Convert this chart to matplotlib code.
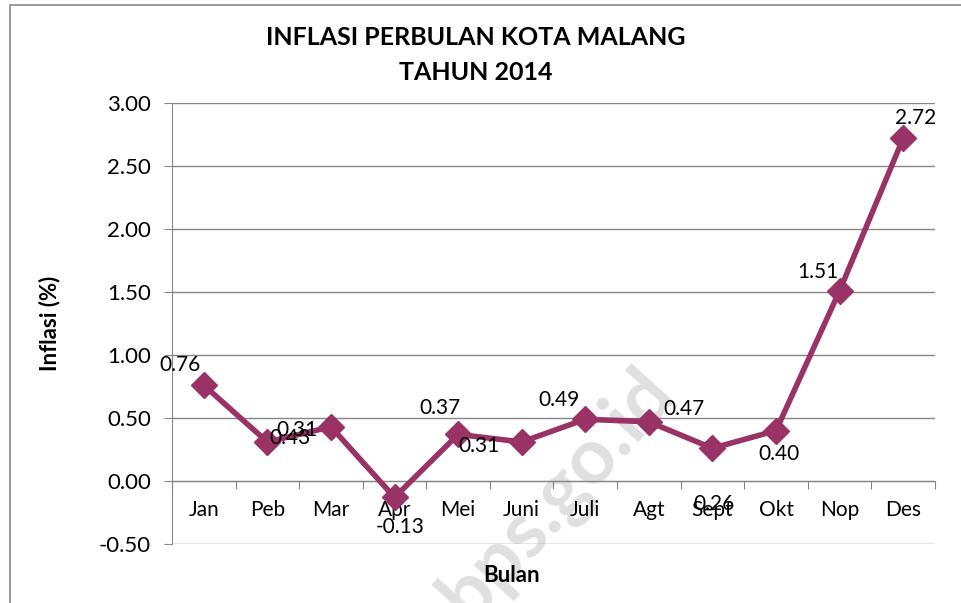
import numpy as np
import matplotlib.pyplot as plt
from matplotlib.patches import Rectangle

plt.rcParams['font.family'] = ['Lato', 'DejaVu Sans']

bulan = ['Jan', 'Peb', 'Mar', 'Apr', 'Mei', 'Juni', 'Juli', 'Agt', 'Sept', 'Okt', 'Nop', 'Des']
inflasi = [0.76, 0.31, 0.43, -0.13, 0.37, 0.31, 0.49, 0.47, 0.26, 0.40, 1.51, 2.72]
yticks = [-0.5, 0.0, 0.5, 1.0, 1.5, 2.0, 2.5, 3.0]

# label offsets in pixels (dx right, dy up), as placed in the original
label_off = [(-24, 20), (30, 12), (-41, -11), (6, -30), (-18, 26), (-43, -4),
             (-26, 19), (35, 13), (2, -56), (3, -23), (-22, 19), (12, 20)]

line_col = '#993366'
grid_col = '#868686'

fig = plt.figure(figsize=(9.62, 6.03), dpi=100)
ax = fig.add_axes([0.1788, 0.0978, 0.7931, 0.7314])
ax.set_facecolor('none')

x = np.arange(len(bulan))
ax.plot(x, inflasi, color=line_col, lw=4.0, marker='D', markersize=13,
        zorder=5, solid_joinstyle='miter')
for xi, v, (dx, dy) in zip(x, inflasi, label_off):
    ax.annotate(f'{v:.2f}', (xi, v), xytext=(dx, dy), textcoords='offset pixels',
                ha='center', va='center', fontsize=15, zorder=6)

ax.set_xlim(-0.5, len(bulan) - 0.5)
ax.set_ylim(-0.5, 3.0)
ax.set_yticks(yticks)
ax.set_yticklabels([f'{t:.2f}' for t in yticks])
ax.yaxis.grid(True, color=grid_col, lw=1)
ax.set_axisbelow(True)

ax.set_xticks(np.arange(len(bulan) + 1) - 0.5)
ax.set_xticklabels([])
ax.set_xticks(x, minor=True)
ax.set_xticklabels(bulan, minor=True)
ax.tick_params(axis='x', which='major', length=6, direction='out', color=grid_col)
ax.tick_params(axis='x', which='minor', length=0, pad=14, labelsize=15)
ax.tick_params(axis='y', length=6, direction='out', color=grid_col, pad=9, labelsize=16)

for s in ['top', 'right']:
    ax.spines[s].set_visible(False)
ax.spines['bottom'].set_position(('data', 0))
ax.spines['bottom'].set_color(grid_col)
ax.spines['left'].set_color(grid_col)

ax.set_ylabel('Inflasi (%)', fontsize=16, fontweight='bold', labelpad=28)
fig.text(0.532, 0.046, 'Bulan', ha='center', va='center', fontsize=16, fontweight='bold')
fig.text(0.495, 0.937, 'INFLASI PERBULAN KOTA MALANG', ha='center', va='center',
         fontsize=18, fontweight='bold')
fig.text(0.495, 0.879, 'TAHUN 2014', ha='center', va='center',
         fontsize=18, fontweight='bold')

# faint watermark behind the plot
fig.text(0.579, 0.180, 'bps.go.id', ha='center', va='center', rotation=48,
         fontsize=56, fontweight='bold', color='#e0e0e0', zorder=-1)

fig.patches.append(Rectangle((0.0104, -0.05), 1.2, 1.042, transform=fig.transFigure,
                             fill=False, ec='#888888', lw=1.2))

fig.savefig('out.png', dpi=100)
